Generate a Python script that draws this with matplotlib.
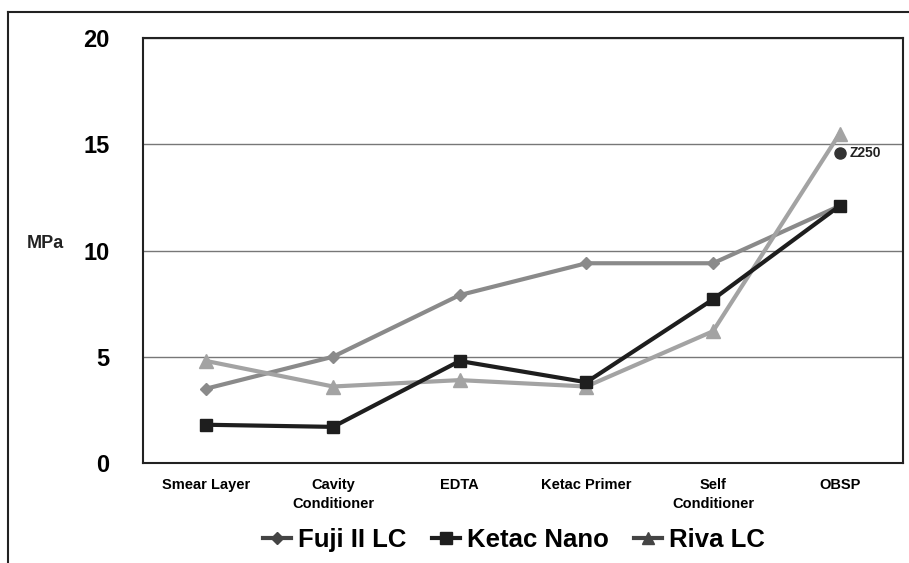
import matplotlib
matplotlib.use("Agg")
import matplotlib.pyplot as plt
from matplotlib.lines import Line2D

categories = ["Smear Layer", "Cavity\nConditioner", "EDTA", "Ketac Primer", "Self\nConditioner", "OBSP"]
fuji = [3.5, 5.0, 7.9, 9.4, 9.4, 12.1]
ketac = [1.8, 1.7, 4.8, 3.8, 7.7, 12.1]
riva = [4.8, 3.6, 3.9, 3.6, 6.2, 15.5]
z250_value = 14.6
yticks = [0, 5, 10, 15, 20]

fam = ["Liberation Sans", "DejaVu Sans"]

fig = plt.figure(figsize=(9.09, 5.63), dpi=100)
ax = fig.add_axes([143/909, 1-463/563, (903-143)/909, (463-38)/563])

x = list(range(len(categories)))
ax.plot(x, fuji, color="#8a8a8a", lw=3, marker="D", ms=6, label="Fuji II LC", zorder=3)
ax.plot(x, riva, color="#a3a3a3", lw=3, marker="^", ms=10, label="Riva LC", zorder=3)
ax.plot(x, ketac, color="#1e1e1e", lw=3, marker="s", ms=9, label="Ketac Nano", zorder=4)
ax.plot([x[-1]], [z250_value], marker="o", color="#333333", ms=8, ls="none", zorder=5)
ax.text(x[-1] + 0.08, z250_value, "Z250", fontsize=10, fontweight="bold", va="center",
        family=fam, color="#222222")

ax.set_xlim(-0.5, len(categories) - 0.5)
ax.set_ylim(0, 20)
ax.set_yticks(yticks)
ax.set_yticklabels([str(v) for v in yticks], fontsize=17, fontweight="bold", family=fam)
ax.yaxis.grid(True, color="#777777", lw=1)
ax.set_axisbelow(True)
ax.tick_params(axis="y", length=0, pad=24)
ax.tick_params(axis="x", length=0, pad=11)
ax.set_xticks(x)
ax.set_xticklabels(categories, fontsize=10.5, fontweight="bold", family=fam, linespacing=1.4)
for s in ax.spines.values():
    s.set_color("#222222")
    s.set_linewidth(1.5)

fig.text(45/909, 1-243/563, "MPa", fontsize=13, fontweight="bold", ha="center", va="center",
         family=fam, color="#222222")

handles = [
    Line2D([], [], color="#444444", lw=3, marker="D", ms=6),
    Line2D([], [], color="#1e1e1e", lw=3, marker="s", ms=8),
    Line2D([], [], color="#444444", lw=3, marker="^", ms=8),
]
fig.legend(handles, ["Fuji II LC", "Ketac Nano", "Riva LC"], loc="center",
           bbox_to_anchor=(514/909, 1-540/563), ncol=3, frameon=False,
           prop={"family": fam, "weight": "bold", "size": 18.5},
           handlelength=1.1, handletextpad=0.25, columnspacing=1.0)

# outer frame
fig.add_artist(Line2D([8/909, 8/909], [0, 1-12/563], color="#222222", lw=1.5, transform=fig.transFigure))
fig.add_artist(Line2D([8/909, 1], [1-12/563, 1-12/563], color="#222222", lw=1.5, transform=fig.transFigure))

fig.savefig("out.png", dpi=100)
